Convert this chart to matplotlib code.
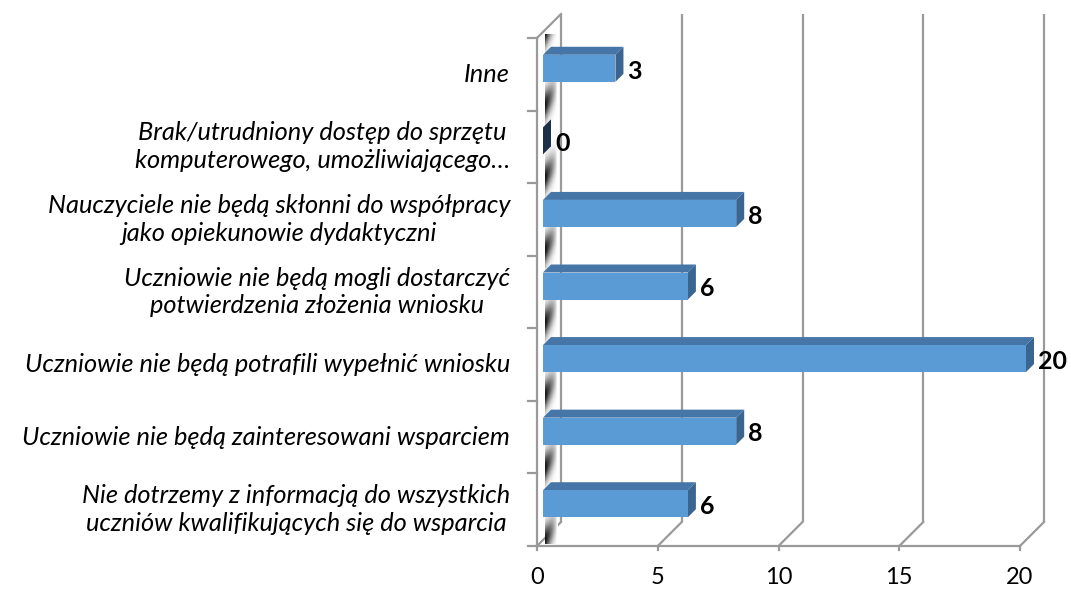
import numpy as np
import matplotlib
matplotlib.use("Agg")
import matplotlib.pyplot as plt
from matplotlib.patches import Polygon

# ---- data ----
categories = [
    "Nie dotrzemy z informacją do wszystkich\nuczniów kwalifikujących się do wsparcia",
    "Uczniowie nie będą zainteresowani wsparciem",
    "Uczniowie nie będą potrafili wypełnić wniosku",
    "Uczniowie nie będą mogli dostarczyć\npotwierdzenia złożenia wniosku",
    "Nauczyciele nie będą skłonni do współpracy\njako opiekunowie dydaktyczni",
    "Brak/utrudniony dostęp do sprzętu\nkomputerowego, umożliwiającego…",
    "Inne",
]
values = [6, 8, 20, 6, 8, 0, 3]
xticks = [0, 5, 10, 15, 20]

W, H = 1071, 590
fig = plt.figure(figsize=(W / 100, H / 100), dpi=100)
# front plane of the 3D box in pixels
L, R, T, B = 537, 1020, 38, 546
ax = fig.add_axes([L / W, 1 - B / H, (R - L) / W, (B - T) / H])
xmax = 20
n = len(categories)
ax.axis("off")

kx = (R - L) / xmax          # px per value unit
ky = (B - T) / n             # px per category
def px(dxp, dyp):
    return dxp / kx, dyp / ky

grid_c = "#9a9a9a"
lw = 1.6
Dx, Dy = px(24, 24)          # depth of the box

# back wall vertical gridlines + floor diagonals
for v in xticks:
    ax.plot([v + Dx, v + Dx], [-0.5 + Dy, n - 0.5 + Dy], color=grid_c, lw=lw,
            clip_on=False, zorder=1, solid_capstyle="butt")
    ax.plot([v, v + Dx], [-0.5, -0.5 + Dy], color=grid_c, lw=lw, clip_on=False, zorder=1)
# front floor edge
ax.plot([0, xmax], [-0.5, -0.5], color=grid_c, lw=lw, clip_on=False, zorder=1)
# left wall edges
ax.plot([0, 0], [-0.5, n - 0.5], color=grid_c, lw=lw, clip_on=False, zorder=1)
ax.plot([0, Dx], [n - 0.5, n - 0.5 + Dy], color=grid_c, lw=lw, clip_on=False, zorder=1)

# wall shading band (gradient stripes around category boundaries)
u0, _ = px(8, 0)
u1, _ = px(21, 0)
nyp = 1200
nxp = 40
y_lo = -0.5 + px(0, 2)[1]
y_hi = n - 0.5 + px(0, 4)[1]
yy = np.linspace(y_lo, y_hi, nyp)[:, None]
uu = np.linspace(0, 1, nxp)[None, :]
ph = ((yy + 0.5 - 0.08 - 0.25 * uu) % 1.0)
ph = np.where(ph > 0.5, ph - 1.0, ph)
d1 = np.exp(-(ph / 0.2) ** 2)
dark = d1 * np.clip(1 - uu * 1.05, 0, 1) ** 0.8
img = 1 - 0.95 * dark
wall = Polygon([(0, -0.5), (Dx, -0.5 + Dy), (Dx, n - 0.5 + Dy), (0, n - 0.5)],
               closed=True, transform=ax.transData, fill=False, lw=0)
ax.add_patch(wall)
im = ax.imshow(img[::-1], extent=[u0, u1, y_lo, y_hi],
               cmap="gray", vmin=0, vmax=1, aspect="auto", zorder=1.5,
               interpolation="bilinear")
im.set_clip_on(False)
ax.set_xlim(0, xmax)
ax.set_ylim(-0.5, n - 0.5)

# y ticks (left of front wall edge)
tk, _ = px(9, 0)
for i in range(n + 1):
    ax.plot([-tk, 0], [i - 0.5, i - 0.5], color=grid_c, lw=lw, clip_on=False, zorder=1)
# x tick marks
_, tky = px(0, 4)
for v in xticks:
    ax.plot([v, v], [-0.5, -0.5 - tky], color=grid_c, lw=lw, clip_on=False, zorder=1)
    ax.text(v, -0.5 - px(0, 32)[1], str(v), ha="center", va="center",
            fontsize=17, family="Lato", clip_on=False)

# bars
fx, fy = px(6, 6)
bx, by = px(8, 8)
hh = px(0, 13.5)[1]
front_c = "#5b9bd5"
top_c = "#4676a8"
side_c = "#3a6590"
for i, (cat, v) in enumerate(zip(categories, values)):
    c = i
    y0, y1 = c + fy - hh, c + fy + hh
    x0, x1 = fx, fx + v
    sc = side_c if v > 0 else "#1c3148"
    if v > 0:
        ax.add_patch(Polygon([(x0, y1), (x1, y1), (x1 + bx, y1 + by), (x0 + bx, y1 + by)],
                             closed=True, fc=top_c, ec="none", zorder=3, clip_on=False))
        ax.add_patch(Polygon([(x0, y0), (x1, y0), (x1, y1), (x0, y1)],
                             closed=True, fc=front_c, ec="none", zorder=4, clip_on=False))
    ax.add_patch(Polygon([(x1, y0), (x1 + bx, y0 + by), (x1 + bx, y1 + by), (x1, y1)],
                         closed=True, fc=sc, ec="none", zorder=3.5, clip_on=False))
    ax.annotate(str(v), xy=(x1 + bx, c + fy), xytext=(3, -2),
                textcoords="offset points", ha="left", va="center",
                fontsize=18, fontweight="bold", family="Lato", zorder=5,
                annotation_clip=False)
    # category label
    ax.text(-px(27, 0)[0], c, cat, ha="right", va="center", multialignment="center",
            fontsize=18.3, style="italic", family="Lato", linespacing=1.25, clip_on=False)

fig.savefig("out.png", dpi=100)
